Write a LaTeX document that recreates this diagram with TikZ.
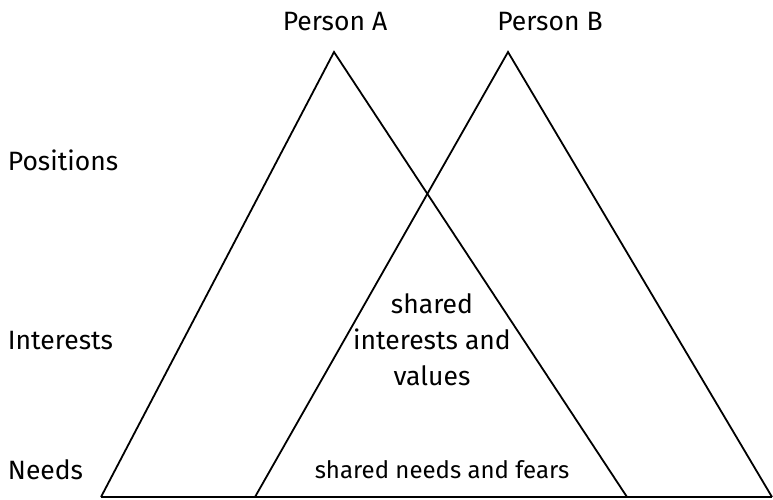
\documentclass[tikz,border=0pt]{standalone}
\usepackage{fontspec}
\setmainfont{Fira Sans}
\usetikzlibrary{positioning}

\begin{document}
\begin{tikzpicture}[
    x=1pt, y=-1pt,
    line width=1.8pt, line join=miter,
    every node/.style={font=\fontsize{26.5}{36}\selectfont, inner sep=1pt}, % labels in one size
    small label/.style={font=\fontsize{24}{36}\selectfont}
]
\useasboundingbox (0,0) rectangle (773,500);
% corners of the two triangles
\coordinate (a_top) at (334,52);
\coordinate (a_left) at (101,497);
\coordinate (a_right) at (627,497);
\coordinate (b_top) at (508,52);
\coordinate (b_left) at (255,497);
\coordinate (b_right) at (772,497);
% draw the triangles
\draw (a_left) -- (a_top) -- (a_right);
\draw (b_left) -- (b_top) -- (b_right);
\draw (a_left) -- (b_right); % common base
% draw the labels
\node (p_a) at (335,22) {Person A};
\node (p_b) at (550,22) {Person B};
\node[anchor=west] (pos) at (6,160) {Positions};
\node[anchor=west] (int) at (6,341) {Interests};
\node[anchor=west] (need) at (6,470) {Needs};
\node[align=center] (s_int) at (432,340) {shared\\interests and\\values};
\node[small label] (s_need) at (442,470) {shared needs and fears};
\end{tikzpicture}
\end{document}
